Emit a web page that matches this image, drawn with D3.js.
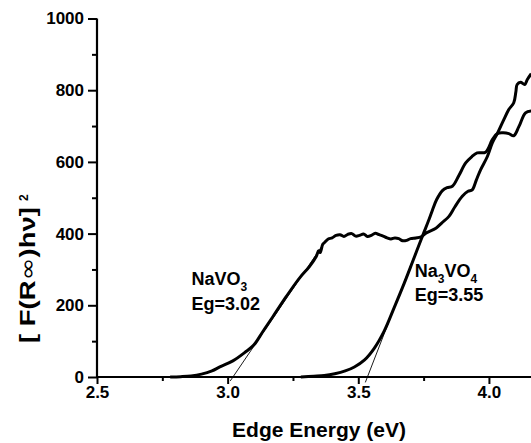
<!DOCTYPE html>
<html>
<head>
<meta charset="utf-8">
<script src="https://cdn.jsdelivr.net/npm/d3@7"></script>
<style>
  body { margin: 0; background: #fff; }
  svg { display: block; font-family: "Liberation Sans", Arial, sans-serif; }
</style>
</head>
<body>
<svg id="chart" width="531" height="443"></svg>
<script>
// data
const xNaVO3 = [2.78, 2.82, 2.86, 2.90, 2.94, 2.97, 3.02, 3.07, 3.10, 3.135, 3.173, 3.224, 3.275, 3.313, 3.339, 3.348, 3.354, 3.364, 3.372, 3.385, 3.40, 3.415, 3.43, 3.445, 3.46, 3.475, 3.49, 3.505, 3.52, 3.535, 3.55, 3.565, 3.58, 3.595, 3.61, 3.625, 3.64, 3.655, 3.67, 3.685, 3.70, 3.72, 3.74, 3.76, 3.797, 3.82, 3.847, 3.87, 3.898, 3.92, 3.936, 3.952, 3.968, 3.994, 4.013, 4.032, 4.057, 4.076, 4.095, 4.103, 4.108, 4.121, 4.137, 4.147, 4.162];
const yNaVO3 = [0, 1, 3, 8, 17, 28, 45, 71, 89, 127, 168, 224, 276, 308, 336, 352, 347, 370, 376, 385, 388, 395, 397, 392, 398, 400, 393, 395, 399, 392, 395, 401, 397, 393, 388, 385, 388, 386, 380, 381, 386, 388, 391, 402, 415, 430, 448, 475, 504, 518, 522, 550, 578, 615, 653, 679, 718, 746, 765, 795, 816, 822, 816, 830, 846];

const xNa3VO4 = [3.28, 3.33, 3.37, 3.41, 3.45, 3.485, 3.523, 3.561, 3.599, 3.637, 3.676, 3.707, 3.745, 3.771, 3.784, 3.80, 3.822, 3.84, 3.86, 3.885, 3.911, 3.935, 3.955, 3.987, 4.013, 4.032, 4.055, 4.076, 4.095, 4.115, 4.14, 4.162];
const yNa3VO4 = [0, 2, 4, 9, 17, 28, 47, 80, 128, 193, 262, 320, 392, 440, 466, 495, 520, 528, 532, 562, 597, 615, 625, 627, 662, 679, 681, 679, 673, 699, 737, 742];

// tangent lines used for the band gap (x, y end points)
const tangentNaVO3 = [[3.01, -11], [3.37, 375]];
const tangentNa3VO4 = [[3.527, -15], [3.72, 348]];

const xTicks = [2.5, 3.0, 3.5, 4.0];
const xMinor = [2.75, 3.25, 3.75];
const yTicks = [0, 200, 400, 600, 800, 1000];
const yMinor = [100, 300, 500, 700, 900];

const labels = [
    { name: "NaVO", sub: "3", sub2: "", eg: "Eg=3.02", x: 2.862, y: 257, y2: 187 },
    { name: "Na", sub: "3", sub2: "4", eg: "Eg=3.55", x: 3.716, y: 279, y2: 212 }
];

const svg = d3.select("#chart");
const x = d3.scaleLinear().domain([2.5, 4.161]).range([97, 531]);
const y = d3.scaleLinear().domain([0, 1000]).range([377, 18.5]);

// clip for curves
svg.append("clipPath").attr("id", "clip")
    .append("rect").attr("x", 97).attr("y", 0).attr("width", 434).attr("height", 390);

const line = d3.line()
    .x(d => x(d[0]))
    .y(d => y(d[1]))
    .curve(d3.curveCatmullRom.alpha(0.5));

const g = svg.append("g").attr("clip-path", "url(#clip)");

[[xNaVO3, yNaVO3], [xNa3VO4, yNa3VO4]].forEach(function (s) {
    g.append("path")
        .datum(s[0].map((v, i) => [v, s[1][i]]))
        .attr("d", line)
        .attr("fill", "none")
        .attr("stroke", "#000")
        .attr("stroke-width", 3)
        .attr("stroke-linejoin", "round");
});

[tangentNaVO3, tangentNa3VO4].forEach(function (t) {
    g.append("line")
        .attr("x1", x(t[0][0])).attr("y1", y(t[0][1]))
        .attr("x2", x(t[1][0])).attr("y2", y(t[1][1]))
        .attr("stroke", "#000").attr("stroke-width", 0.9);
});

// axes
const xAxis = svg.append("g").attr("transform", "translate(0,377)")
    .call(d3.axisBottom(x).tickValues(xTicks).tickFormat(d3.format(".1f")).tickSize(7).tickPadding(2));
svg.append("g").attr("transform", "translate(0,377)")
    .call(d3.axisBottom(x).tickValues(xMinor).tickFormat("").tickSize(4))
    .select(".domain").remove();
const yAxis = svg.append("g").attr("transform", "translate(97,0)")
    .call(d3.axisLeft(y).tickValues(yTicks).tickFormat(d3.format("d")).tickSize(9).tickPadding(4));
svg.append("g").attr("transform", "translate(97,0)")
    .call(d3.axisLeft(y).tickValues(yMinor).tickFormat("").tickSize(5))
    .select(".domain").remove();

// plain lines without end caps
xAxis.select(".domain").attr("d", "M97,0H531");
yAxis.select(".domain").attr("d", "M0," + y(1000) + "V377");
svg.selectAll(".domain").attr("stroke-width", 2.2);
svg.selectAll(".tick line").attr("stroke-width", 2);
svg.selectAll(".tick text")
    .attr("font-family", "Liberation Sans, Arial, sans-serif")
    .attr("font-size", 17).attr("font-weight", "bold").attr("fill", "#000");

// axis titles
svg.append("text")
    .attr("x", 319).attr("y", 437)
    .attr("text-anchor", "middle")
    .attr("font-size", 21).attr("font-weight", "bold")
    .text("Edge Energy (eV)");

const yl = svg.append("text")
    .attr("transform", "translate(35,343) rotate(-90)")
    .attr("font-size", 22).attr("font-weight", "bold")
    .attr("textLength", 136).attr("lengthAdjust", "spacingAndGlyphs");
yl.append("tspan").text("[ F(R");
yl.append("tspan").attr("font-family", "DejaVu Sans").attr("font-weight", "normal").text("\u221E");
yl.append("tspan").text(")h\u03BD]");
svg.append("text")
    .attr("transform", "translate(28,201) rotate(-90)")
    .attr("font-size", 12).attr("font-weight", "bold")
    .text("2");

// annotations
labels.forEach(function (l) {
    const t = svg.append("text")
        .attr("x", x(l.x)).attr("y", y(l.y))
        .attr("font-size", 18).attr("font-weight", "bold");
    t.append("tspan").text(l.name);
    t.append("tspan").attr("font-size", 12).attr("dy", 6).text(l.sub);
    if (l.sub2) {
        t.append("tspan").attr("dy", -6).text("VO");
        t.append("tspan").attr("font-size", 12).attr("dy", 6).text(l.sub2);
    }
    svg.append("text")
        .attr("x", x(l.x)).attr("y", y(l.y2))
        .attr("font-size", 18).attr("font-weight", "bold")
        .text(l.eg);
});
</script>
</body>
</html>
